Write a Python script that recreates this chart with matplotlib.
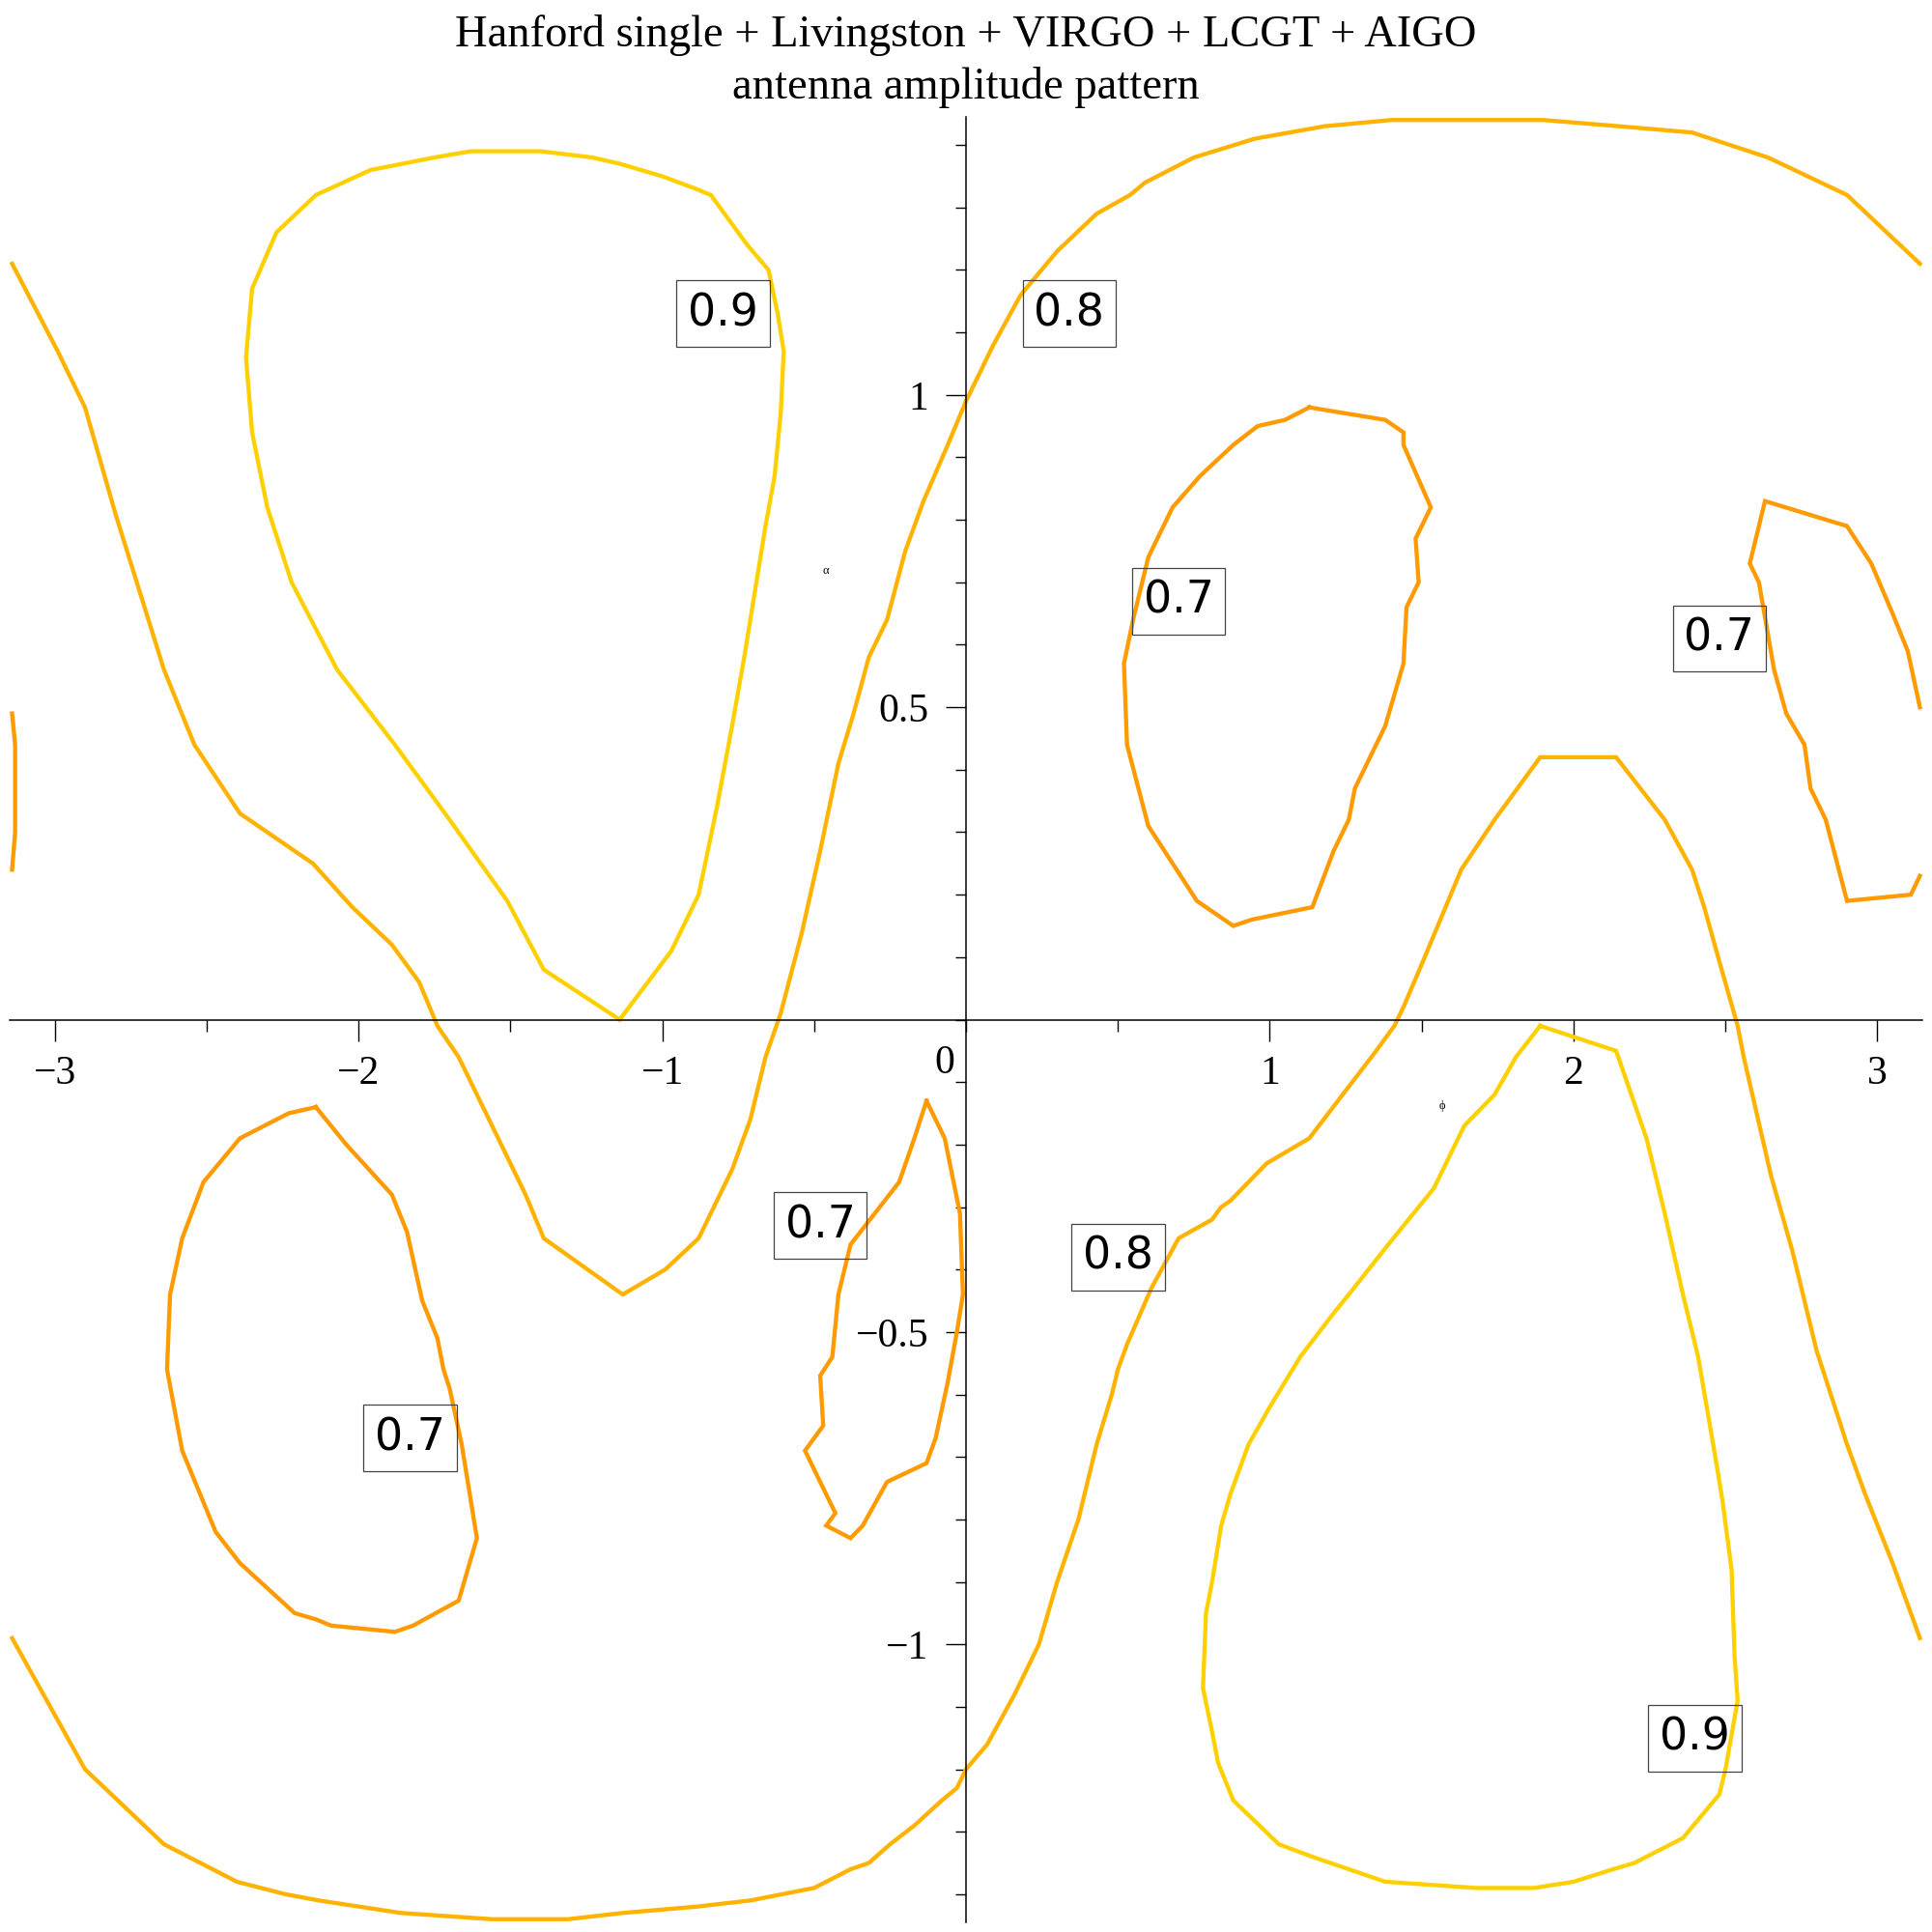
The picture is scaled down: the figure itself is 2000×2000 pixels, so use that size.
import numpy as np
import matplotlib.pyplot as plt
from matplotlib.ticker import MultipleLocator

# contour lines, (phi, alpha) pairs
# level 0.9
c09_upper = [(-1.14, 0.00), (-1.39, 0.08), (-1.51, 0.19), (-1.70, 0.32), (-1.88, 0.44),
             (-2.07, 0.56), (-2.22, 0.70), (-2.30, 0.82), (-2.35, 0.94), (-2.37, 1.06),
             (-2.35, 1.17), (-2.27, 1.26), (-2.14, 1.32), (-1.96, 1.36), (-1.75, 1.38),
             (-1.63, 1.39), (-1.40, 1.39), (-1.23, 1.38), (-1.14, 1.37), (-1.00, 1.35),
             (-0.89, 1.33), (-0.84, 1.32), (-0.72, 1.24), (-0.65, 1.20), (-0.62, 1.13),
             (-0.60, 1.07), (-0.61, 0.97), (-0.63, 0.87), (-0.66, 0.79), (-0.69, 0.70),
             (-0.73, 0.58), (-0.77, 0.47), (-0.82, 0.34), (-0.88, 0.20), (-0.97, 0.11),
             (-1.14, 0.00)]
c09_lower = [(1.89, -0.01), (2.14, -0.05), (2.24, -0.19), (2.30, -0.31), (2.36, -0.44),
             (2.41, -0.54), (2.47, -0.71), (2.49, -0.77), (2.52, -0.88), (2.53, -1.02),
             (2.54, -1.09), (2.50, -1.20), (2.48, -1.24), (2.36, -1.31), (2.20, -1.35),
             (2.13, -1.36), (2.00, -1.38), (1.87, -1.39), (1.68, -1.39), (1.38, -1.38),
             (1.14, -1.34), (1.03, -1.32), (0.88, -1.25), (0.83, -1.19), (0.81, -1.14),
             (0.78, -1.07), (0.79, -0.95), (0.81, -0.90), (0.84, -0.81), (0.87, -0.76),
             (0.93, -0.68), (1.00, -0.62), (1.10, -0.54), (1.21, -0.47), (1.26, -0.44),
             (1.39, -0.36), (1.44, -0.33), (1.54, -0.27), (1.64, -0.17), (1.74, -0.12),
             (1.81, -0.06), (1.89, -0.01)]

# level 0.8
c08_upper = [(-3.14, 1.21), (-2.99, 1.07), (-2.90, 0.98), (-2.80, 0.81), (-2.64, 0.56),
             (-2.54, 0.44), (-2.39, 0.33), (-2.15, 0.25), (-2.02, 0.18), (-1.89, 0.12),
             (-1.80, 0.06), (-1.74, -0.01), (-1.67, -0.06), (-1.56, -0.17), (-1.45, -0.28),
             (-1.39, -0.35), (-1.13, -0.44), (-0.99, -0.40), (-0.88, -0.35), (-0.85, -0.32),
             (-0.77, -0.24), (-0.71, -0.16), (-0.66, -0.06), (-0.61, 0.01), (-0.54, 0.14),
             (-0.48, 0.27), (-0.42, 0.41), (-0.37, 0.49), (-0.32, 0.58), (-0.26, 0.64),
             (-0.20, 0.75), (-0.14, 0.83), (-0.06, 0.92), (0.00, 0.99), (0.09, 1.08),
             (0.18, 1.16), (0.30, 1.23), (0.43, 1.29), (0.54, 1.32), (0.59, 1.34),
             (0.75, 1.38), (0.95, 1.41), (1.18, 1.43), (1.40, 1.44), (1.66, 1.44),
             (1.90, 1.44), (2.15, 1.43), (2.39, 1.42), (2.64, 1.38), (2.90, 1.32),
             (3.14, 1.21)]
c08_lower = [(-3.14, -0.99), (-3.06, -1.06), (-2.90, -1.20), (-2.64, -1.32), (-2.40, -1.38),
             (-2.24, -1.40), (-2.13, -1.41), (-1.86, -1.43), (-1.56, -1.44), (-1.31, -1.44),
             (-1.13, -1.43), (-0.89, -1.42), (-0.71, -1.41), (-0.50, -1.39), (-0.38, -1.36),
             (-0.32, -1.35), (-0.25, -1.32), (-0.17, -1.29), (-0.08, -1.25), (-0.03, -1.23),
             (0.00, -1.20), (0.07, -1.16), (0.16, -1.08), (0.24, -1.00), (0.30, -0.90),
             (0.37, -0.80), (0.43, -0.68), (0.48, -0.60), (0.50, -0.56), (0.53, -0.52),
             (0.61, -0.43), (0.70, -0.35), (0.81, -0.32), (0.84, -0.30), (0.87, -0.29),
             (0.99, -0.23), (1.13, -0.19), (1.24, -0.12), (1.35, -0.05), (1.41, -0.01),
             (1.44, 0.02), (1.51, 0.10), (1.63, 0.24), (1.74, 0.32), (1.80, 0.36),
             (1.89, 0.42), (2.14, 0.42), (2.30, 0.32), (2.39, 0.24), (2.43, 0.18),
             (2.47, 0.11), (2.54, -0.01), (2.56, -0.06), (2.65, -0.25), (2.72, -0.37),
             (2.80, -0.53), (2.90, -0.68), (2.96, -0.76), (3.05, -0.87), (3.14, -0.99)]

# level 0.7
c07_mid = [(1.13, 0.98), (1.38, 0.96), (1.44, 0.94), (1.44, 0.92), (1.53, 0.82),
           (1.48, 0.77), (1.49, 0.70), (1.45, 0.66), (1.44, 0.57), (1.41, 0.52),
           (1.38, 0.47), (1.35, 0.44), (1.28, 0.37), (1.26, 0.32), (1.21, 0.27),
           (1.14, 0.18), (0.94, 0.16), (0.88, 0.15), (0.76, 0.19), (0.60, 0.31),
           (0.53, 0.44), (0.52, 0.57), (0.55, 0.64), (0.60, 0.74), (0.68, 0.82),
           (0.77, 0.87), (0.88, 0.92), (0.96, 0.95), (1.05, 0.96), (1.13, 0.98)]
c07_right = [(3.14, 0.50), (3.10, 0.59), (3.05, 0.65), (2.98, 0.73), (2.90, 0.79),
             (2.63, 0.83), (2.58, 0.73), (2.61, 0.70), (2.66, 0.56), (2.70, 0.49),
             (2.76, 0.44), (2.78, 0.37), (2.83, 0.32), (2.90, 0.19), (3.11, 0.20),
             (3.14, 0.23)]
c07_left = [(-3.14, 0.49), (-3.13, 0.44), (-3.13, 0.30), (-3.14, 0.24)]
c07_low = [(-2.14, -0.14), (-2.23, -0.15), (-2.39, -0.19), (-2.51, -0.26), (-2.58, -0.35),
           (-2.62, -0.44), (-2.63, -0.56), (-2.58, -0.69), (-2.47, -0.82), (-2.39, -0.87),
           (-2.21, -0.95), (-2.14, -0.96), (-2.09, -0.97), (-1.88, -0.98), (-1.82, -0.97),
           (-1.67, -0.93), (-1.61, -0.83), (-1.63, -0.77), (-1.66, -0.68), (-1.70, -0.59),
           (-1.72, -0.56), (-1.74, -0.51), (-1.79, -0.45), (-1.84, -0.34), (-1.89, -0.28),
           (-2.04, -0.20), (-2.14, -0.14)]
c07_small = [(-0.13, -0.13), (-0.07, -0.19), (-0.02, -0.31), (-0.01, -0.44), (-0.03, -0.50),
             (-0.06, -0.58), (-0.10, -0.67), (-0.13, -0.71), (-0.26, -0.74), (-0.34, -0.81),
             (-0.38, -0.83), (-0.46, -0.81), (-0.43, -0.79), (-0.53, -0.69), (-0.47, -0.65),
             (-0.48, -0.57), (-0.44, -0.54), (-0.42, -0.44), (-0.38, -0.36), (-0.30, -0.31),
             (-0.22, -0.26), (-0.17, -0.19), (-0.13, -0.13)]

contours = [(0.9, c09_upper), (0.9, c09_lower), (0.8, c08_upper), (0.8, c08_lower),
            (0.7, c07_mid), (0.7, c07_right), (0.7, c07_left), (0.7, c07_low), (0.7, c07_small)]
level_colors = {0.7: '#FF9A00', 0.8: '#FFB300', 0.9: '#FFD000'}

# inline labels: level, phi, alpha
labels = [(0.9, -0.80, 1.13), (0.8, 0.34, 1.13), (0.7, 0.70, 0.67), (0.7, 2.48, 0.61),
          (0.7, -0.48, -0.33), (0.8, 0.50, -0.38), (0.7, -1.83, -0.67), (0.9, 2.40, -1.15)]

xticks = [-3, -2, -1, 1, 2, 3]
yticks = [-1, -0.5, 0.5, 1]
yticklabels = ['\u22121', '\u22120.5', '0.5', '1']

serif = 'Liberation Serif'

fig = plt.figure(figsize=(20, 20), dpi=100)
ax = fig.add_axes([0.005, 0.005, 0.99, 0.9345])

for lev, pts in contours:
    p = np.array(pts)
    ax.plot(p[:, 0], p[:, 1], color=level_colors[lev], lw=3.1, solid_joinstyle='miter')

for lev, x, y in labels:
    ax.text(x, y, '%.1f' % lev, fontsize=33, family='DejaVu Sans', ha='center', va='center',
            bbox=dict(boxstyle='square,pad=0.26', fc='none', ec='#444444', lw=0.9))

ax.set_xlim(-3.148, 3.148)
ax.set_ylim(-1.445, 1.445)

# axes through the origin, Maple style
ax.spines['left'].set_position(('data', 0))
ax.spines['bottom'].set_position(('data', 0))
ax.spines['top'].set_visible(False)
ax.spines['right'].set_visible(False)
for s in ['left', 'bottom']:
    ax.spines[s].set_linewidth(1.1)

ax.set_xticks(xticks)
ax.set_xticklabels(['\u2212' + str(-t) if t < 0 else str(t) for t in xticks])
ax.xaxis.set_minor_locator(MultipleLocator(0.5))
ax.set_yticks(yticks)
ax.set_yticklabels(yticklabels)
ax.yaxis.set_minor_locator(MultipleLocator(0.1))
ax.tick_params(axis='x', which='major', direction='out', length=16, width=1, pad=11, labelsize=30)
ax.tick_params(axis='x', which='minor', direction='out', length=8.5, width=1)
ax.tick_params(axis='y', which='major', direction='out', length=15, width=1, pad=13, labelsize=30)
ax.tick_params(axis='y', which='minor', direction='out', length=8, width=1)
for lab in ax.get_xticklabels() + ax.get_yticklabels():
    lab.set_family(serif)

ax.text(-0.07, -0.07, '0', fontsize=30, family=serif, ha='center', va='center')
ax.text(1.566, -0.138, '\u03d5', fontsize=9, family=serif, ha='center', va='center')
ax.text(-0.462, 0.719, '\u03b1', fontsize=9, family=serif, ha='center', va='center')

fig.text(0.5, 1 - 36 / 2000, 'Hanford single + Livingston + VIRGO + LCGT + AIGO',
         fontsize=33.5, family=serif, ha='center', va='center')
fig.text(0.5, 1 - 91 / 2000, 'antenna amplitude pattern',
         fontsize=33.5, family=serif, ha='center', va='center')

fig.savefig('out.png', dpi=100, facecolor='white')
